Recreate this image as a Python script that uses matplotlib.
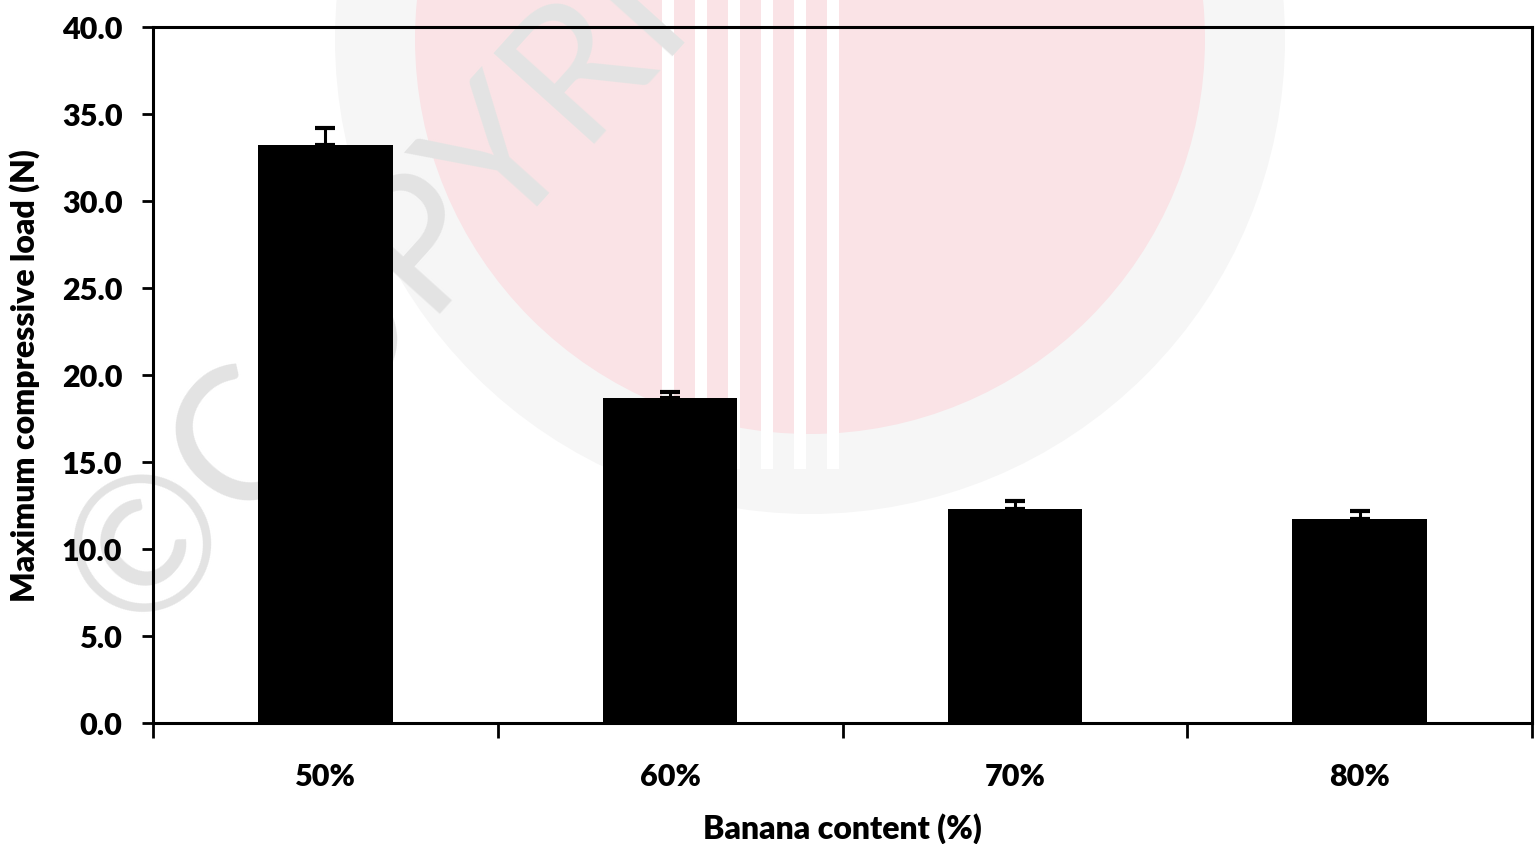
import matplotlib.pyplot as plt
from matplotlib.patches import Circle, Rectangle

# Maximum compressive load vs banana content
categories = ["50%", "60%", "70%", "80%"]
load_mean = [33.2, 18.7, 12.3, 11.7]
load_err = [1.0, 0.3, 0.45, 0.5]

plt.rcParams['font.family'] = ['Lato', 'DejaVu Sans']
plt.rcParams['font.weight'] = 'bold'

W, H = 1539, 845
fig = plt.figure(figsize=(W / 100, H / 100), dpi=100)
ax = fig.add_axes([153 / W, 1 - 724 / H, (1532 - 153) / W, (724 - 28) / H])
ax.patch.set_alpha(0)

# faint watermark behind the plot (pixel coordinates, origin bottom-left)
px = fig.dpi_scale_trans
cx, cy = 8.10, (H - 40) / 100
fig.patches.append(Circle((cx, cy), 4.75, transform=px, facecolor='#f6f6f6',
                          edgecolor='none', zorder=-3))
fig.patches.append(Circle((cx, cy), 3.95, transform=px, facecolor='#fae3e6',
                          edgecolor='none', zorder=-2))
for sx in [6.62, 6.95, 7.28, 7.61, 7.94, 8.27]:
    fig.patches.append(Rectangle((sx, (H - 470) / 100), 0.12, 4.7, transform=px,
                                 facecolor='white', edgecolor='none', zorder=-2))
fig.text(138 / W, 1 - 640 / H, "\u00a9COPYRIGHT", fontsize=135, color='#e3e3e3',
         rotation=48, rotation_mode='anchor', ha='left', va='baseline',
         fontweight='normal', zorder=-1)

x = range(len(categories))
ax.bar(x, load_mean, width=0.39, color='black', zorder=3)
ax.errorbar(x, load_mean, yerr=[[0] * len(load_err), load_err], fmt='none',
            ecolor='black', elinewidth=2.2, capsize=7, capthick=3, zorder=4)

ax.set_xlim(-0.5, len(categories) - 0.5)
ax.set_ylim(0, 40)
ax.set_yticks([0, 5, 10, 15, 20, 25, 30, 35, 40])
ax.set_yticklabels([f"{v:.1f}" for v in ax.get_yticks()], fontsize=22, fontweight='heavy')

# category labels sit between the boundary ticks
ax.set_xticks([i - 0.5 for i in range(len(categories) + 1)])
ax.set_xticklabels([])
ax.set_xticks(list(x), minor=True)
ax.set_xticklabels(categories, minor=True, fontsize=22, fontweight='heavy')
ax.tick_params(axis='x', which='minor', length=0, pad=28)
ax.tick_params(axis='x', which='major', direction='out', length=11, width=2)
ax.tick_params(axis='y', direction='out', length=8, width=2, pad=14)

for s in ax.spines.values():
    s.set_linewidth(2.2)

ax.set_xlabel("Banana content (%)", fontsize=23, fontweight='heavy', labelpad=16)
ax.set_ylabel("Maximum compressive load (N)", fontsize=23, fontweight='heavy', labelpad=16)

fig.savefig("out.png", dpi=100)
